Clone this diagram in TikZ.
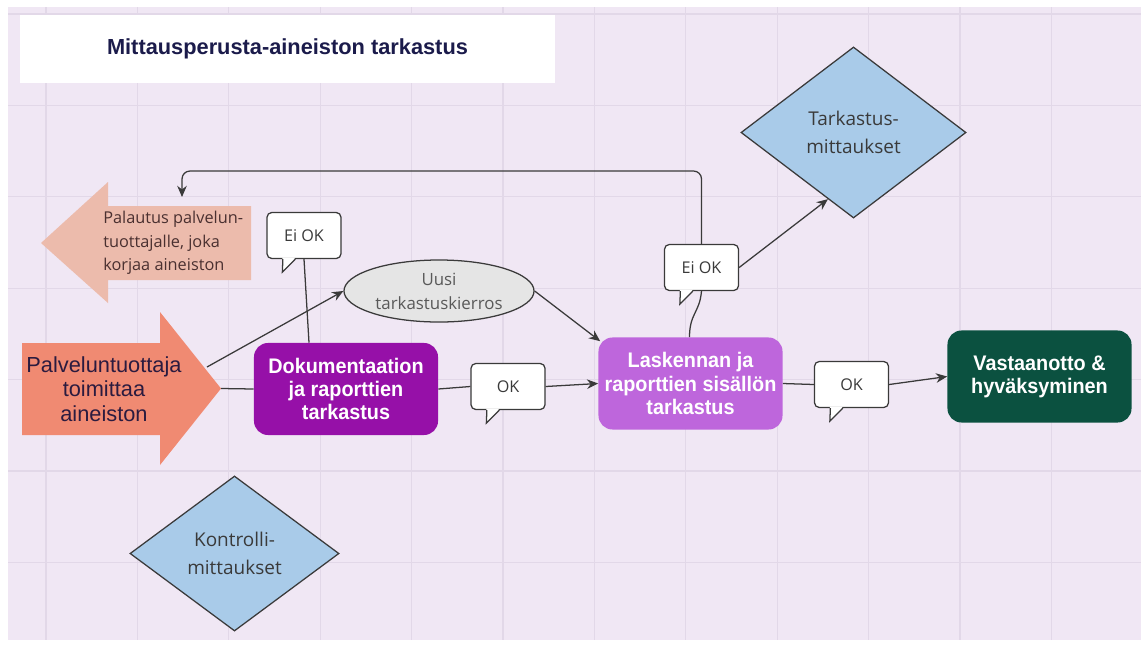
\documentclass[tikz,border=0pt]{standalone}
\usepackage{fontspec}
\setmainfont{Open Sans}
\newfontfamily\arialfont{Liberation Sans}
\newfontfamily\boxfont[FakeStretch=0.94]{Liberation Sans}
\usepackage{tikz}
\usetikzlibrary{shapes.geometric, arrows.meta, calc, positioning}

\definecolor{bglav}{HTML}{F0E7F4}
\definecolor{gridlav}{HTML}{E2D8E8}
\definecolor{titlenavy}{HTML}{1B1B4B}
\definecolor{palsalmon}{HTML}{F08A72}
\definecolor{retsalmon}{HTML}{ECBBAC}
\definecolor{paltext}{HTML}{2B1B3F}
\definecolor{rettext}{HTML}{4A3030}
\definecolor{docpurple}{HTML}{9610A8}
\definecolor{calcpurple}{HTML}{BE66DC}
\definecolor{accgreen}{HTML}{0B5140}
\definecolor{checkblue}{HTML}{A9CBE9}
\definecolor{roundgray}{HTML}{E5E5E5}
\definecolor{linegray}{HTML}{3A3A3A}

\tikzstyle{titlebox} = [rectangle, minimum width=13.375cm, minimum height=1.7cm, fill=white, text=titlenavy, font=\arialfont\bfseries\fontsize{15.5}{18}\selectfont]
\tikzstyle{stepbox} = [rectangle, rounded corners=0.35cm, minimum width=4.6cm, minimum height=2.3cm, align=center, inner sep=0pt, text=white, font=\boxfont\bfseries\fontsize{15}{16.5}\selectfont]
\tikzstyle{checkdiamond} = [diamond, draw=linegray, line width=0.9pt, fill=checkblue, inner sep=0pt, align=center, text=linegray, font=\fontsize{13.5}{20}\selectfont]
\tikzstyle{roundelem} = [ellipse, draw=linegray, line width=0.9pt, fill=roundgray, minimum width=4.75cm, minimum height=1.55cm, inner sep=0pt, align=center, text=black!65, font=\fontsize{12}{17}\selectfont]
\tikzstyle{bubble} = [rectangle, rounded corners=0.12cm, draw=linegray, line width=0.9pt, fill=white, minimum width=1.85cm, minimum height=1.15cm, text=linegray, font=\fontsize{11.5}{13}\selectfont]
\tikzstyle{link} = [draw=linegray, line width=0.9pt]
\tikzstyle{arrow} = [link, -{Stealth[length=0.28cm, width=0.24cm]}]

\begin{document}
\begin{tikzpicture}[x=0.025cm, y=-0.025cm]

\useasboundingbox (0,0) rectangle (1141,645);
\fill[white] (0,0) rectangle (1141,645);
\fill[bglav] (8,7) rectangle (1141,640);
\foreach \gx in {46,137.4,...,1100}
    \draw[gridlav, line width=0.8pt] (\gx,7) -- (\gx,640);
\foreach \gy in {14,105.4,...,640}
    \draw[gridlav, line width=0.8pt] (8,\gy) -- (1141,\gy);

\node (title) [titlebox] at (287.5,49) {Mittausperusta-aineiston tarkastus};

% arrow shapes
\fill[palsalmon] (22,343) -- (160,343) -- (160,312) -- (221,388.5) -- (160,465) -- (160,435) -- (22,435) -- cycle;
\fill[retsalmon] (41,243) -- (108,182) -- (108,206) -- (251,206) -- (251,280) -- (108,280) -- (108,303) -- cycle;
\node (pal) [align=center, text=paltext, font=\arialfont\fontsize{15.5}{17.5}\selectfont] at (104,389) {Palveluntuottaja\\toimittaa\\aineiston};
\node (palret) [anchor=west, inner sep=0pt, align=left, text=rettext, font=\fontsize{11.6}{16.7}\selectfont] at (103,243) {Palautus palvelun-\\tuottajalle, joka\\korjaa aineiston};
\coordinate (paltip) at (221,388.5);
\coordinate (palup) at (207,367);
\coordinate (retin) at (182,197);

\node (doc) [stepbox, fill=docpurple] at (346,389) {Dokumentaation\\ja raporttien\\tarkastus};
\node (calc) [stepbox, fill=calcpurple] at (690.5,383.5) {Laskennan ja\\raporttien sisällön\\tarkastus};
\node (acc) [stepbox, fill=accgreen] at (1039.5,376.5) {Vastaanotto \&\\hyväksyminen};

\node (uusi) [roundelem] at (439,291) {Uusi\\tarkastuskierros};
\node (tark) [checkdiamond, minimum width=5.625cm, minimum height=4.275cm] at (853.5,132.5) {Tarkastus-\\mittaukset};
\node (kontr) [checkdiamond, minimum width=5.225cm, minimum height=3.875cm] at (234.5,553.5) {Kontrolli-\\mittaukset};

\node (eiok1) [bubble] at (304,235.5) {Ei OK};
\node (eiok2) [bubble] at (701.5,267.5) {Ei OK};
\node (ok1) [bubble] at (508,386.5) {OK};
\node (ok2) [bubble] at (851.5,384.5) {OK};
\foreach \b in {eiok1,eiok2,ok1,ok2} {
    \fill[white] ($(\b.south west)+(16,-1.5)$) -- ($(\b.south west)+(16,13)$) -- ($(\b.south west)+(29,-1.5)$) -- cycle;
    \draw[link] ($(\b.south west)+(16.5,0)$) -- ($(\b.south west)+(16,13)$) -- ($(\b.south west)+(29,0)$);
}

\draw [link] (paltip) -- (doc.west);
\draw [link] (doc.east) -- (ok1.west);
\draw [arrow] (ok1.east) -- (calc.west);
\draw [link] (eiok1.south) -- ($(doc.north)+(-37,0)$);
\draw [arrow] (palup) -- (uusi.west);
\draw [arrow] (uusi.east) -- ($(calc.north west)+(2,4)$);
\draw [link] ($(calc.north)+(-1,0)$) .. controls +(0,-24) and +(-2,22) .. (eiok2.south);
\draw [arrow, rounded corners=0.2cm] (eiok2.north) |- (retin |- 0,171) -- (retin);
\draw [arrow] (eiok2.east) -- (tark.249);
\draw [link] (calc.east) -- (ok2.west);
\draw [arrow] (ok2.east) -- (acc.west);

\end{tikzpicture}
\end{document}
